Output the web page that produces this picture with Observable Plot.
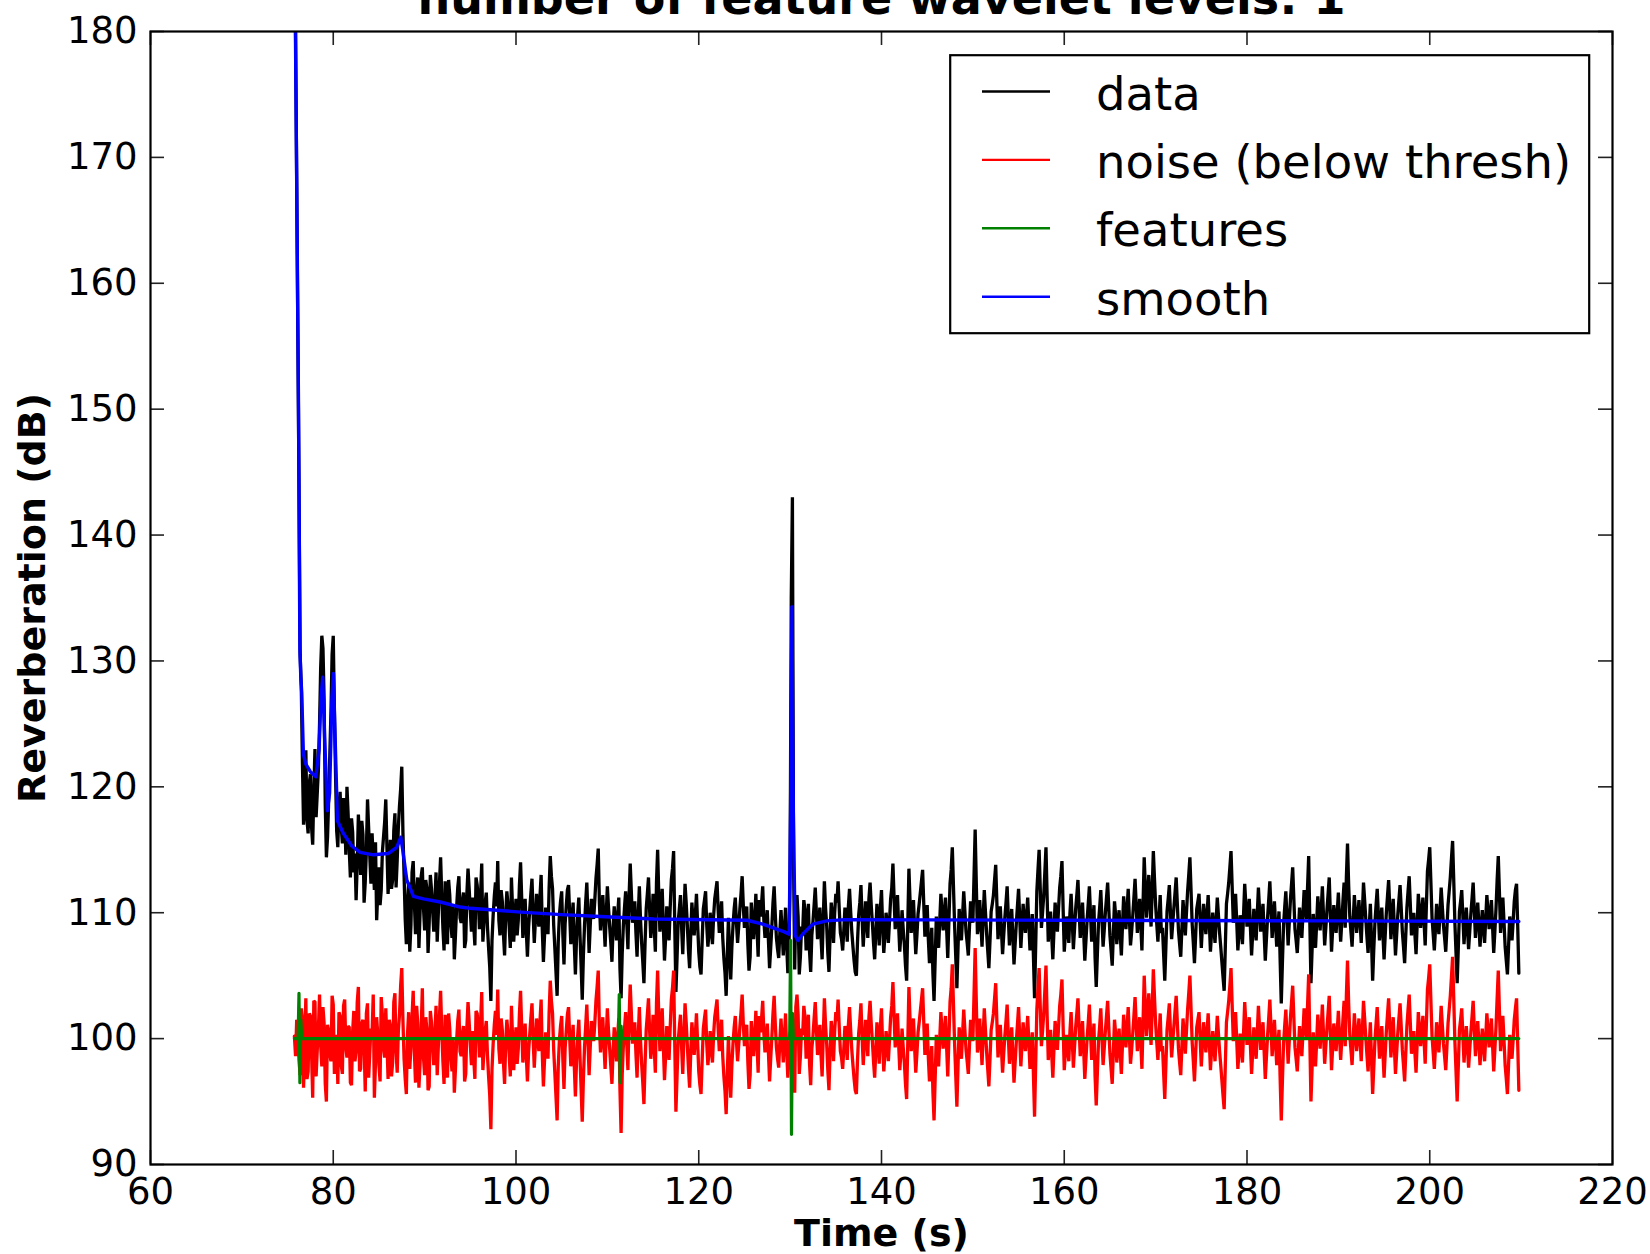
<!DOCTYPE html>
<html><head><meta charset="utf-8">
<script src="https://cdn.jsdelivr.net/npm/d3@7"></script>
<script src="https://cdn.jsdelivr.net/npm/@observablehq/plot@0.6"></script>
<style>
html,body{margin:0;padding:0;background:#fff;}
#wrap{position:relative;width:1650px;height:1254px;overflow:hidden;background:#fff;}
</style></head><body><div id="wrap"></div>
<script>
// ---------- text ----------
const chartTitle = "number of feature wavelet levels: 1";
const xLabel = "Time (s)";
const yLabel = "Reverberation (dB)";
const seriesNames = ["data", "noise (below thresh)", "features", "smooth"];
const seriesColors = ["#000000", "#ff0000", "#008000", "#0000ff"];
const xTicks = [60, 80, 100, 120, 140, 160, 180, 200, 220];
const yTicks = [90, 100, 110, 120, 130, 140, 150, 160, 170, 180];

// ---------- sampled series: every 0.25 s from 75.75 s, plus the in-between samples (from 75.875 s) ----------
const sampleStart = 75.75;
const sampleStep = 0.25;

const dataValues = [
  190, 168, 144, 128.0, 117, 122.9, 116.3, 121, 115.4, 123, 119.5, 125, 132, 127, 114.4, 119, 126, 132, 121, 115.2,
  119.6, 115.5, 118.2, 120.0, 115.0, 117.5, 113.2, 111.0, 117.8, 113.0, 116.2, 112.4, 119.0, 114.5, 116.3, 111.8, 109.4, 113.6, 111.8, 116.0,
  119.0, 111.5, 115.8, 112.6, 117.9, 114.2, 118.5, 121.6, 113.0, 107.5, 112.4, 109.0, 114.1, 108.3, 112.8, 110.0, 113.6, 108.6, 111.9, 109.2,
  111.9, 108.5, 113.2, 110.0, 114.4, 108.8, 112.5, 107.5, 111.4, 108.0, 106.3, 110.4, 112.9, 109.2, 111.6, 107.8, 113.5, 110.1, 111.2, 107.4,
  112.2, 108.7, 113.9, 109.3, 111.6, 107.2, 103.0, 109.8, 112.4, 114.1, 108.2, 110.9, 106.6, 111.7, 109.0, 112.8, 107.7, 111.1, 109.4, 114.0,
  108.0, 111.1, 106.5, 110.2, 112.7, 107.6, 111.5, 108.9, 113.0, 106.1, 110.4, 108.3, 114.5, 111.9, 107.2, 103.4, 109.8, 111.7, 105.9, 110.5,
  112.2, 107.5, 110.8, 105.1, 109.9, 108.3, 103.1, 109.0, 112.4, 106.8, 111.1, 109.5, 112.7, 115.1, 108.6, 111.4, 107.3, 112.1, 108.9, 106.1,
  110.5, 107.8, 111.2, 103.2, 109.0, 111.7, 107.1, 113.9, 109.2, 110.9, 106.5, 112.1, 107.6, 104.4, 110.3, 112.8, 108.0, 111.5, 106.9, 115.0,
  108.5, 111.9, 106.2, 110.5, 107.8, 112.6, 114.9, 103.7, 109.3, 111.4, 106.7, 112.3, 109.0, 105.6, 110.8, 108.2, 111.5, 106.9, 105.1, 110.3,
  111.7, 107.3, 110.0, 107.5, 111.1, 112.5, 108.4, 110.9, 106.4, 103.4, 109.6, 104.7, 109.0, 111.2, 107.6, 110.3, 112.9, 108.8, 110.5, 105.4,
  110.8, 107.9, 111.5, 106.5, 109.7, 112.1, 108.0, 110.2, 105.6, 108.9, 112.1, 108.0, 106.4, 110.2, 106.6, 110.4, 105.2, 113.5, 143.0, 105.5,
  111.4, 105.1, 108.9, 111.0, 107.0, 110.7, 105.3, 109.3, 112.0, 107.9, 110.4, 106.3, 112.5, 109.0, 105.3, 110.8, 107.6, 111.5, 112.5, 108.4,
  107.0, 110.4, 107.7, 111.9, 108.5, 106.2, 105.0, 109.8, 112.2, 107.3, 110.9, 108.0, 112.4, 109.2, 106.3, 110.7, 107.4, 111.8, 106.8, 110.0,
  107.6, 111.1, 113.9, 108.7, 111.4, 106.9, 110.2, 107.5, 104.6, 113.5, 108.4, 111.0, 106.7, 109.9, 111.6, 113.4, 108.1, 110.6, 106.0, 108.8,
  103.0, 109.7, 107.2, 111.5, 108.6, 111.2, 106.4, 112.3, 115.2, 109.0, 104.0, 110.3, 107.8, 111.7, 108.5, 106.6, 110.9, 109.2, 116.6, 108.3,
  111.0, 107.3, 111.8, 108.4, 105.6, 110.1, 111.4, 113.8, 107.9, 110.5, 106.7, 109.6, 112.1, 107.4, 110.3, 105.9, 109.1, 111.9, 107.2, 110.7,
  108.4, 111.2, 107.0, 109.9, 103.2, 111.7, 115.0, 108.8, 111.3, 115.2, 107.7, 110.1, 106.3, 110.8, 108.5, 112.0, 114.1, 106.9, 109.7, 107.6,
  111.5, 107.1, 110.3, 112.6, 108.0, 110.8, 106.2, 109.4, 112.1, 107.7, 110.6, 104.1, 109.2, 111.8, 107.3, 110.0, 112.4, 108.2, 105.8, 110.9,
  107.5, 110.2, 106.6, 111.3, 108.7, 111.9, 107.4, 109.8, 112.7, 108.4, 111.1, 107.0, 114.4, 109.6, 113.0, 108.9, 114.9, 110.6, 107.7, 111.4,
  108.8, 104.6, 110.1, 112.2, 107.9, 110.4, 112.8, 108.6, 106.5, 111.0, 108.2, 111.7, 114.4, 109.1, 106.0, 110.3, 111.5, 107.2, 110.7, 108.3,
  111.4, 106.9, 110.0, 107.6, 111.2, 108.4, 106.1, 103.8, 110.7, 112.4, 114.9, 109.2, 111.5, 107.0, 109.8, 107.5, 112.3, 108.9, 111.1, 106.6,
  110.3, 107.8, 112.0, 108.5, 110.7, 106.2, 109.6, 112.5, 108.0, 110.9, 107.3, 110.1, 102.8, 109.0, 111.7, 107.4, 111.0, 113.6, 108.7, 106.8,
  110.4, 108.0, 111.8, 109.5, 114.5, 104.4, 109.9, 107.2, 111.3, 108.6, 112.1, 107.4, 110.2, 112.8, 106.9, 110.6, 108.4, 111.6, 107.7, 110.9,
  108.8, 115.5, 109.7, 107.3, 111.4, 108.4, 111.0, 107.6, 112.4, 109.5, 106.8, 110.7, 104.6, 109.2, 111.9, 107.8, 110.4, 106.3, 110.0, 112.6,
  107.9, 111.1, 106.6, 109.8, 112.2, 108.5, 106.0, 110.4, 112.9, 108.2, 110.0, 106.7, 111.5, 108.8, 111.2, 107.4, 113.3, 115.2, 109.6, 107.0,
  110.7, 108.3, 112.0, 109.0, 106.9, 110.6, 112.8, 115.7, 109.2, 104.4, 110.1, 111.8, 107.5, 110.4, 107.1, 109.9, 112.4, 108.0, 110.8, 107.3,
  110.2, 107.6, 111.4, 108.7, 111.0, 106.8, 110.3, 114.5, 108.4, 111.2, 107.3, 105.1, 109.7, 107.8, 110.9, 112.3, 105.2
];
const dataMidValues = [
  180, 156, 130.5, 122.0, 119.5, 117.4, 120.3, 116.8, 119.8, 117.6, 121.4, 129.5, 131.0, 118.6, 116.0, 122.5, 130.5, 126.0, 116.5, 118.4,
  116.8, 119.1, 114.6, 117.9, 112.8, 116.4, 114.7, 113.9, 115.5, 117.3, 110.8, 114.9, 116.7, 112.3, 114.2, 115.6, 111.7, 110.6, 114.8, 117.2,
  115.2, 113.4, 111.9, 116.5, 112.0, 116.8, 119.8, 116.4, 109.5, 110.8, 106.9, 113.2, 110.9, 111.6, 107.2, 112.9, 110.4, 112.6, 106.8, 113.0,
  110.2, 111.0, 107.7, 112.4, 111.3, 107.0, 109.9, 112.6, 109.1, 110.5, 108.2, 112.0, 109.6, 110.9, 107.2, 111.5, 111.9, 108.5, 109.0, 112.8,
  111.0, 111.5, 107.7, 110.8, 108.9, 105.7, 107.8, 111.3, 110.5, 109.4, 111.8, 108.3, 109.9, 110.6, 107.2, 110.3, 109.6, 108.2, 112.2, 111.1,
  109.2, 108.6, 108.8, 111.5, 109.9, 109.4, 110.1, 111.3, 108.7, 108.2, 109.6, 112.0, 112.9, 109.0, 105.3, 107.7, 110.9, 108.3, 109.1, 111.8,
  109.9, 109.4, 107.6, 108.0, 111.2, 105.8, 106.6, 110.8, 109.7, 109.0, 110.4, 111.0, 113.8, 110.8, 110.2, 109.3, 109.9, 110.4, 107.6, 108.8,
  109.1, 109.8, 105.6, 106.8, 110.4, 109.2, 111.3, 111.6, 110.0, 108.4, 109.7, 109.5, 106.1, 107.6, 111.5, 110.2, 109.2, 108.9, 112.4, 111.4,
  110.0, 108.9, 108.0, 109.2, 110.4, 113.5, 108.9, 106.4, 110.3, 108.8, 109.6, 110.8, 107.0, 108.3, 109.4, 109.8, 109.1, 105.7, 107.8, 111.0,
  109.0, 108.4, 108.6, 109.7, 111.8, 110.2, 109.6, 108.0, 105.2, 106.6, 106.9, 107.3, 110.3, 109.2, 108.9, 111.5, 110.6, 109.9, 107.5, 106.5,
  109.3, 109.5, 108.8, 111.0, 110.7, 109.4, 109.0, 107.8, 107.2, 110.8, 109.9, 107.1, 108.4, 108.5, 108.6, 107.4, 107.0, 135.0, 114.0, 110.5,
  109.7, 106.5, 108.5, 110.2, 108.6, 106.9, 108.2, 110.6, 110.0, 108.8, 108.1, 109.5, 110.4, 106.8, 108.3, 109.7, 110.0, 110.8, 110.3, 107.9,
  108.6, 109.4, 110.5, 110.1, 107.3, 105.3, 107.7, 110.8, 109.6, 109.0, 109.4, 111.1, 110.6, 107.6, 108.4, 109.2, 110.3, 108.9, 108.2, 109.1,
  109.3, 112.0, 111.2, 109.9, 109.0, 108.3, 108.7, 105.8, 109.0, 110.9, 109.6, 108.7, 108.2, 110.7, 112.5, 110.7, 109.3, 107.9, 107.2, 105.2,
  106.3, 108.4, 109.4, 110.0, 109.9, 108.8, 109.3, 113.4, 112.1, 106.5, 107.2, 109.0, 109.8, 110.1, 107.6, 108.8, 110.0, 112.9, 112.3, 108.9,
  109.2, 109.6, 110.1, 107.0, 107.8, 110.7, 112.6, 110.8, 109.2, 108.6, 108.2, 110.8, 109.7, 108.9, 108.1, 107.5, 110.5, 109.6, 108.9, 109.4,
  109.8, 109.1, 108.4, 106.6, 107.4, 113.4, 111.9, 110.0, 113.2, 111.3, 108.9, 108.2, 108.6, 109.6, 110.3, 112.9, 110.4, 108.3, 108.7, 110.0,
  109.3, 108.7, 111.4, 110.3, 109.4, 108.5, 107.8, 110.7, 109.9, 109.1, 106.4, 106.7, 110.4, 109.5, 108.6, 111.2, 110.3, 107.0, 108.3, 109.8,
  108.9, 108.3, 109.0, 110.0, 110.3, 109.6, 108.5, 111.2, 110.6, 109.7, 109.0, 110.7, 112.0, 111.3, 110.9, 111.8, 112.7, 109.1, 109.5, 108.4,
  106.7, 107.3, 111.1, 110.0, 109.2, 111.6, 110.7, 107.5, 108.8, 109.6, 110.0, 113.0, 111.8, 107.6, 108.1, 110.9, 109.3, 109.0, 109.5, 109.9,
  109.2, 108.5, 108.8, 109.4, 109.8, 107.3, 104.9, 107.2, 111.5, 113.6, 112.1, 110.3, 109.3, 108.4, 108.7, 109.9, 110.6, 110.0, 108.8, 108.4,
  109.0, 109.9, 110.2, 109.6, 108.4, 107.9, 111.0, 110.3, 109.4, 109.1, 108.7, 106.3, 106.0, 110.4, 109.6, 109.2, 112.3, 111.1, 107.8, 108.5,
  109.2, 109.9, 110.6, 112.0, 109.3, 107.1, 108.5, 109.2, 109.9, 110.3, 109.7, 108.8, 111.5, 109.8, 108.7, 109.5, 110.0, 109.6, 109.3, 112.4,
  112.8, 112.2, 108.5, 109.4, 109.9, 109.7, 109.3, 110.0, 111.0, 108.1, 108.8, 107.8, 107.1, 110.6, 109.9, 109.1, 108.3, 108.2, 111.3, 110.4,
  109.5, 108.8, 108.2, 111.0, 110.4, 107.3, 108.2, 111.7, 110.6, 109.1, 108.3, 109.1, 110.2, 110.0, 109.3, 110.4, 114.2, 112.4, 108.3, 108.7,
  109.5, 110.1, 110.5, 108.0, 108.7, 111.7, 114.3, 112.6, 106.8, 107.2, 110.9, 109.7, 109.0, 108.8, 108.5, 111.1, 110.2, 109.4, 109.1, 108.8,
  108.9, 109.5, 110.1, 109.9, 108.9, 108.5, 112.6, 111.6, 109.8, 109.3, 106.2, 107.3, 108.8, 109.3, 111.8, 109.0
];

const noiseValues = [
  100.2, 101.5, 98.3, 102.4, 96.1, 103.2, 97.4, 101.8, 95.3, 102.9, 99.1, 103.5, 97.8, 101.2, 95.0, 100.6, 98.2, 102.7, 99.0, 96.4,
  101.8, 97.2, 103.1, 98.5, 100.9, 96.3, 102.2, 99.0, 104.1, 97.6, 101.5, 95.8, 102.8, 98.9, 100.4, 95.3, 101.7, 97.9, 103.3, 99.2,
  102.4, 96.8, 101.0, 98.1, 103.6, 97.3, 101.9, 105.6, 98.4, 95.6, 102.1, 99.3, 103.8, 96.5, 101.2, 98.0, 104.0, 97.1, 100.7, 96.2,
  101.3, 97.9, 102.6, 99.4, 103.8, 98.2, 101.9, 96.9, 100.8, 97.4, 95.7, 99.8, 102.3, 98.6, 101.0, 97.2, 102.9, 99.5, 100.6, 96.8,
  102.0, 98.5, 103.7, 99.1, 101.4, 97.0, 92.8, 99.6, 102.2, 103.9, 98.0, 100.7, 96.4, 101.5, 98.8, 102.6, 97.5, 100.9, 99.2, 103.8,
  98.1, 101.2, 96.6, 100.3, 102.8, 97.7, 101.6, 99.0, 103.1, 96.2, 100.5, 98.4, 104.6, 102.0, 97.3, 93.5, 99.9, 101.8, 96.0, 100.6,
  102.5, 97.8, 101.1, 95.4, 100.2, 98.6, 93.4, 99.3, 102.7, 97.1, 101.4, 99.8, 103.0, 105.4, 98.9, 101.7, 97.6, 102.4, 99.2, 96.4,
  100.9, 98.2, 101.6, 92.5, 99.4, 102.1, 97.5, 104.3, 99.6, 101.3, 96.9, 102.5, 98.0, 94.8, 100.7, 103.2, 98.4, 101.9, 97.3, 105.4,
  99.0, 102.4, 96.7, 101.0, 98.3, 103.1, 105.4, 94.2, 99.8, 101.9, 97.2, 102.8, 99.5, 96.1, 101.3, 98.7, 102.0, 97.4, 95.6, 100.8,
  102.3, 97.9, 100.6, 98.1, 101.7, 103.1, 99.0, 101.5, 97.0, 94.0, 100.2, 95.3, 99.6, 101.8, 98.2, 100.9, 103.5, 99.4, 101.1, 96.0,
  101.4, 98.6, 102.2, 97.3, 100.5, 103.0, 98.9, 101.2, 96.6, 100.1, 103.4, 99.3, 97.7, 101.6, 98.1, 102.0, 96.9, 100.4, 99.5, 95.7,
  103.5, 97.2, 100.8, 102.6, 98.4, 101.9, 96.3, 100.2, 102.9, 98.7, 101.1, 97.0, 103.2, 99.6, 95.9, 101.4, 98.2, 102.1, 103.1, 99.0,
  97.6, 101.0, 98.3, 102.5, 99.1, 96.8, 95.6, 100.4, 102.8, 97.9, 101.5, 98.6, 103.0, 99.8, 96.9, 101.3, 98.0, 102.4, 97.4, 100.6,
  98.2, 101.7, 104.5, 99.3, 102.0, 97.5, 100.8, 98.1, 95.2, 104.1, 99.0, 101.6, 97.3, 100.5, 102.2, 104.0, 98.7, 101.2, 96.6, 99.4,
  93.5, 100.3, 97.8, 102.1, 99.2, 101.8, 97.0, 102.9, 105.9, 99.6, 94.6, 100.9, 98.4, 102.3, 99.1, 97.2, 101.5, 99.8, 107.2, 98.9,
  101.6, 97.9, 102.4, 99.0, 96.2, 100.7, 102.0, 104.4, 98.5, 101.1, 97.3, 100.2, 102.7, 98.0, 100.9, 96.5, 99.7, 102.5, 97.8, 101.3,
  99.0, 101.8, 97.6, 100.5, 93.8, 102.3, 105.6, 99.4, 101.9, 105.8, 98.3, 100.7, 96.9, 101.4, 99.1, 102.6, 104.7, 97.5, 100.3, 98.2,
  102.1, 97.7, 100.9, 103.2, 98.6, 101.4, 96.8, 100.0, 102.7, 98.3, 101.2, 94.7, 99.8, 102.4, 97.9, 100.6, 103.0, 98.8, 96.4, 101.5,
  98.1, 100.8, 97.2, 101.9, 99.3, 102.5, 98.0, 100.4, 103.3, 99.0, 101.7, 97.6, 105.0, 100.2, 103.6, 99.5, 105.5, 101.2, 98.3, 102.0,
  99.4, 95.2, 100.7, 102.8, 98.5, 101.0, 103.4, 99.2, 97.1, 101.6, 98.8, 102.3, 105.0, 99.7, 96.6, 100.9, 102.1, 97.8, 101.3, 98.9,
  102.0, 97.5, 100.6, 98.2, 101.8, 99.0, 96.7, 94.4, 101.3, 103.0, 105.6, 99.8, 102.1, 97.6, 100.4, 98.1, 102.9, 99.5, 101.7, 97.2,
  100.9, 98.4, 102.6, 99.1, 101.3, 96.8, 100.2, 103.1, 98.6, 101.5, 97.9, 100.7, 93.5, 99.6, 102.3, 98.0, 101.6, 104.2, 99.3, 97.4,
  101.0, 98.6, 102.4, 100.1, 105.1, 95.0, 100.5, 97.8, 101.9, 99.2, 102.7, 98.0, 100.8, 103.4, 97.5, 101.2, 99.0, 102.2, 98.3, 101.5,
  99.4, 106.2, 100.3, 97.9, 102.0, 99.0, 101.6, 98.2, 103.0, 100.1, 97.4, 101.3, 95.6, 99.8, 102.5, 98.4, 101.0, 96.9, 100.6, 103.2,
  98.5, 101.7, 97.2, 100.4, 102.8, 99.1, 96.6, 101.0, 103.5, 98.8, 100.6, 97.3, 102.1, 99.4, 101.8, 98.0, 103.9, 105.9, 100.2, 97.6,
  101.3, 98.9, 102.6, 99.6, 97.5, 101.2, 103.4, 106.5, 99.8, 95.0, 100.7, 102.4, 98.1, 101.0, 97.7, 100.5, 103.0, 98.6, 101.4, 97.9,
  100.8, 98.2, 102.0, 99.3, 101.6, 97.4, 100.9, 105.4, 99.0, 101.8, 97.9, 95.6, 100.3, 98.4, 101.5, 103.2, 95.9
];
const noiseMidValues = [
  98.6, 100.9, 97.1, 101.6, 99.4, 96.8, 102.0, 98.9, 103.0, 97.0, 100.8, 99.5, 102.5, 96.4, 101.1, 98.8, 103.4, 97.2, 100.3, 102.1,
  97.9, 102.6, 99.3, 101.0, 96.5, 100.6, 98.2, 102.9, 97.4, 101.2, 99.6, 102.0, 96.9, 100.8, 103.5, 98.1, 100.3, 96.6, 101.9, 98.5,
  99.7, 101.5, 97.0, 102.9, 99.0, 100.6, 104.2, 101.5, 96.8, 100.3, 97.6, 101.8, 99.0, 102.6, 96.1, 100.8, 98.5, 101.7, 95.9, 102.2,
  99.6, 100.4, 97.1, 101.8, 100.7, 96.4, 99.3, 102.0, 98.5, 99.9, 97.6, 101.4, 99.0, 100.3, 96.6, 100.9, 101.3, 97.9, 98.4, 102.2,
  100.8, 101.3, 97.5, 100.6, 98.7, 95.5, 97.6, 101.1, 100.3, 99.2, 101.6, 98.1, 99.7, 100.4, 97.0, 100.1, 99.4, 98.0, 102.0, 100.9,
  99.3, 98.7, 98.9, 101.6, 100.0, 99.5, 100.2, 101.4, 98.8, 98.3, 99.7, 102.1, 103.0, 99.1, 95.4, 97.8, 101.0, 98.4, 99.2, 101.9,
  100.1, 99.6, 97.9, 98.2, 101.5, 96.0, 96.8, 101.0, 99.9, 99.3, 100.6, 101.2, 104.1, 101.0, 100.5, 99.5, 100.1, 100.6, 97.8, 99.0,
  99.5, 100.2, 96.0, 97.2, 100.8, 99.6, 101.7, 102.0, 100.4, 98.8, 100.1, 99.9, 96.5, 98.0, 101.9, 100.6, 99.6, 99.3, 102.8, 101.8,
  100.5, 99.4, 98.6, 99.8, 100.9, 104.0, 99.5, 97.0, 100.9, 99.3, 100.1, 101.3, 97.6, 98.9, 100.0, 100.3, 99.7, 96.3, 98.3, 101.6,
  99.6, 99.0, 99.2, 100.3, 102.4, 100.8, 100.2, 98.6, 95.8, 97.2, 97.5, 97.9, 100.9, 99.8, 99.5, 102.1, 101.2, 100.5, 98.1, 97.1,
  100.0, 100.2, 99.6, 101.8, 101.6, 100.4, 100.0, 98.9, 98.4, 102.0, 101.2, 98.4, 99.8, 99.9, 100.1, 99.0, 98.6, 100.8, 98.0, 102.5,
  101.9, 98.6, 100.3, 101.7, 99.9, 98.0, 99.2, 101.6, 100.8, 99.5, 98.8, 100.2, 101.1, 97.5, 99.0, 100.3, 100.6, 101.4, 100.9, 98.5,
  99.2, 100.0, 101.1, 100.7, 97.9, 95.9, 98.3, 101.4, 100.2, 99.6, 100.0, 101.7, 101.2, 98.2, 99.0, 99.8, 100.9, 99.5, 98.8, 99.7,
  99.9, 102.6, 101.8, 100.5, 99.6, 98.9, 99.3, 96.4, 99.6, 101.5, 100.2, 99.3, 98.8, 101.3, 103.1, 101.3, 99.9, 98.5, 97.8, 95.8,
  96.9, 99.0, 100.0, 100.6, 100.5, 99.4, 99.9, 104.0, 102.7, 97.1, 97.8, 99.6, 100.4, 100.7, 98.2, 99.4, 100.6, 103.5, 102.9, 99.5,
  99.8, 100.2, 100.7, 97.6, 98.4, 101.3, 103.2, 101.4, 99.8, 99.2, 98.8, 101.4, 100.3, 99.5, 98.7, 98.1, 101.1, 100.2, 99.5, 100.0,
  100.4, 99.7, 99.0, 97.2, 98.0, 104.0, 102.5, 100.6, 103.8, 101.9, 99.5, 98.8, 99.2, 100.2, 100.9, 103.5, 101.0, 98.9, 99.3, 100.6,
  99.9, 99.3, 102.0, 100.9, 100.0, 99.1, 98.4, 101.3, 100.5, 99.7, 97.0, 97.3, 101.0, 100.1, 99.2, 101.8, 100.9, 97.6, 98.9, 100.4,
  99.5, 98.9, 99.6, 100.6, 100.9, 100.2, 99.1, 101.8, 101.2, 100.3, 99.6, 101.3, 102.6, 101.9, 101.5, 102.4, 103.3, 99.7, 100.1, 99.0,
  97.3, 97.9, 101.7, 100.6, 99.8, 102.2, 101.3, 98.1, 99.4, 100.2, 100.6, 103.6, 102.4, 98.2, 98.7, 101.5, 99.9, 99.6, 100.1, 100.5,
  99.8, 99.1, 99.4, 100.0, 100.4, 97.9, 95.5, 97.8, 102.1, 104.2, 102.7, 100.9, 99.9, 99.0, 99.3, 100.5, 101.2, 100.6, 99.4, 99.0,
  99.6, 100.5, 100.8, 100.2, 99.0, 98.5, 101.6, 100.9, 100.0, 99.7, 99.3, 96.9, 96.6, 101.0, 100.2, 99.8, 102.9, 101.7, 98.4, 99.1,
  99.8, 100.5, 101.2, 102.6, 99.9, 97.7, 99.1, 99.8, 100.5, 100.9, 100.3, 99.4, 102.1, 100.4, 99.3, 100.1, 100.6, 100.2, 99.9, 103.0,
  103.4, 102.8, 99.1, 100.0, 100.5, 100.3, 99.9, 100.6, 101.6, 98.7, 99.4, 98.4, 97.7, 101.2, 100.5, 99.7, 98.9, 98.8, 101.9, 101.0,
  100.1, 99.4, 98.8, 101.6, 101.0, 97.9, 98.8, 102.3, 101.2, 99.7, 98.9, 99.7, 100.8, 100.6, 99.9, 101.0, 104.8, 103.0, 98.9, 99.3,
  100.1, 100.7, 101.1, 98.6, 99.3, 102.3, 104.9, 103.2, 97.4, 97.8, 101.5, 100.3, 99.6, 99.4, 99.1, 101.7, 100.8, 100.0, 99.7, 99.4,
  99.5, 100.1, 100.7, 100.5, 99.5, 99.1, 103.2, 102.2, 100.4, 99.9, 96.8, 97.9, 99.4, 99.9, 102.4, 99.6
];

// ---------- sparse series ----------
const featureTimes  = [75.75, 76.15, 76.25, 76.35, 76.45, 76.55, 111.2, 111.3, 111.4, 111.5, 111.6, 129.95, 130.05, 130.15, 130.25, 130.35, 209.75];
const featureValues = [100, 100, 103.6, 96.5, 101.5, 100, 100, 103.5, 96.5, 101, 100, 100, 107.8, 92.4, 102, 100, 100];

const smoothTimes = [75.75, 76.0, 76.2, 76.35, 76.45, 76.55, 76.73, 77.0, 77.5, 78.1, 78.45, 78.65, 78.85, 79.05, 79.36, 79.6, 79.85, 80.02, 80.2, 80.46,
  81.11, 82.03, 82.94, 84.4, 86.0, 86.95, 87.39, 87.6, 88.05, 88.78, 89.87, 91.7, 93.9, 95.0, 100.5, 105.0, 109.2, 115.1, 125.3, 127.0,
  129.3, 129.9, 130.05, 130.2, 130.35, 130.55, 130.85, 131.5, 132.5, 134.0, 136.0, 160.0, 190.0, 209.75];
const smoothValues = [190, 168, 150, 131, 128.7, 127.5, 122.6, 121.8, 121.2, 120.8, 123.0, 127.0, 128.7, 124.0, 118.1, 119.5, 127.0, 129.0, 124.0, 117.3,
  116.3, 115.3, 114.8, 114.6, 114.7, 115.2, 116.0, 115.0, 112.6, 111.3, 111.1, 110.85, 110.45, 110.35, 110.05, 109.85, 109.7, 109.5, 109.4, 109.1,
  108.5, 108.3, 118.0, 134.3, 118.0, 108.2, 107.8, 108.4, 109.1, 109.35, 109.45, 109.4, 109.35, 109.3];

// ---------- build tables ----------
const sampled = (main, mid) => main.map((v, i) => ({t: sampleStart + i * sampleStep, v}))
  .concat(mid.map((v, i) => ({t: sampleStart + sampleStep / 2 + i * sampleStep, v})))
  .sort((a, b) => a.t - b.t);
const paired = (ts, vs) => ts.map((t, i) => ({t, v: vs[i]}));
const dataRows = sampled(dataValues, dataMidValues);
const noiseRows = sampled(noiseValues, noiseMidValues);
const featureRows = paired(featureTimes, featureValues);
const smoothRows = paired(smoothTimes, smoothValues);

const W = 1650, H = 1254;
const mL = 150, mR = 38, mT = 31, mB = 90;
const innerW = W - mL - mR, innerH = H - mT - mB;
const tickLen = 14;
const lw = 3.3;

const chart = Plot.plot({
  width: W, height: H,
  marginLeft: mL, marginRight: mR, marginTop: mT, marginBottom: mB,
  x: {domain: [60, 220]},
  y: {domain: [90, 180]},
  style: {fontFamily: "DejaVu Sans", fontSize: "37px", color: "black", background: "white", display: "block", overflow: "visible"},
  marks: [
    Plot.line(dataRows, {x: "t", y: "v", stroke: seriesColors[0], strokeWidth: lw, strokeLinejoin: "miter", strokeMiterlimit: 2, clip: true}),
    Plot.line(noiseRows, {x: "t", y: "v", stroke: seriesColors[1], strokeWidth: lw, strokeLinejoin: "miter", strokeMiterlimit: 2, clip: true}),
    Plot.line(featureRows, {x: "t", y: "v", stroke: seriesColors[2], strokeWidth: 3.2, clip: true}),
    Plot.line(smoothRows, {x: "t", y: "v", stroke: seriesColors[3], strokeWidth: 3.4, clip: true}),
    Plot.tickX(xTicks, {x: d => d, insetTop: innerH - tickLen, stroke: "#222", strokeWidth: 1.6}),
    Plot.tickX(xTicks, {x: d => d, insetBottom: innerH - tickLen, stroke: "#222", strokeWidth: 1.6}),
    Plot.tickY(yTicks, {y: d => d, insetRight: innerW - tickLen, stroke: "#222", strokeWidth: 1.6}),
    Plot.tickY(yTicks, {y: d => d, insetLeft: innerW - tickLen, stroke: "#222", strokeWidth: 1.6}),
    Plot.frame({stroke: "black", strokeWidth: 2.2}),
    Plot.axisX(xTicks, {tickSize: 0, tickPadding: 13, label: null, tickFormat: d => String(d), fontSize: 37}),
    Plot.axisY(yTicks, {tickSize: 0, tickPadding: 13, label: null, tickFormat: d => String(d), fontSize: 37}),
    Plot.text([xLabel], {text: d => d, frameAnchor: "bottom", lineAnchor: "middle", textAnchor: "middle", dy: 69, fontWeight: "bold", fontSize: 38}),
    Plot.text([yLabel], {text: d => d, frameAnchor: "left", lineAnchor: "middle", textAnchor: "middle", dx: -118, rotate: -90, fontWeight: "bold", fontSize: 38}),
    Plot.text([chartTitle], {text: d => d, frameAnchor: "top", textAnchor: "middle", dy: -18, lineAnchor: "bottom", fontWeight: "bold", fontSize: 46})
  ]
});
const wrap = document.getElementById("wrap");
wrap.appendChild(chart);

// ---------- legend (overlay box) ----------
const lg = d3.select(wrap).append("svg")
  .attr("width", 642).attr("height", 281)
  .style("position", "absolute").style("left", "949px").style("top", "54px")
  .style("font-family", "DejaVu Sans");
lg.append("rect").attr("x", 1.2).attr("y", 1.2).attr("width", 639).attr("height", 278)
  .attr("fill", "white").attr("stroke", "black").attr("stroke-width", 2.2);
const rowY = i => 37.5 + i * 68.4;
seriesNames.forEach((name, i) => {
  lg.append("line").attr("x1", 33).attr("x2", 101).attr("y1", rowY(i)).attr("y2", rowY(i))
    .attr("stroke", seriesColors[i]).attr("stroke-width", 2.4);
  lg.append("text").attr("x", 147).attr("y", rowY(i) + 18).attr("font-size", 46.5).attr("fill", "black").text(name);
});
</script></body></html>
